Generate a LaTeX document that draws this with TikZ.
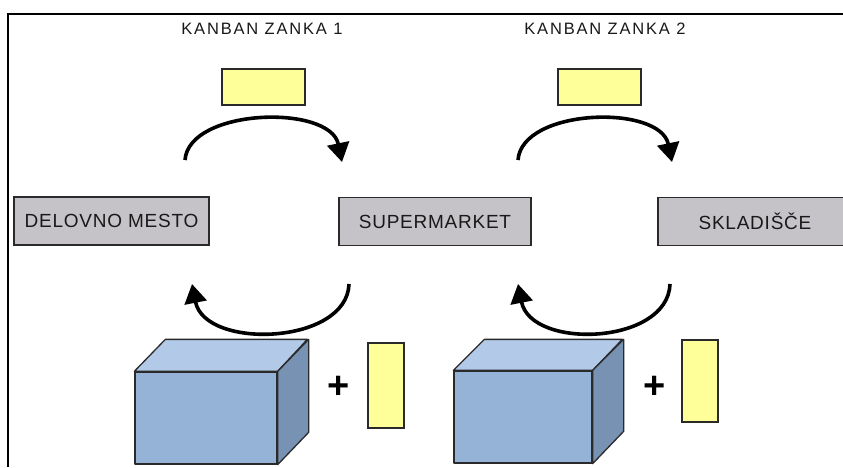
\documentclass[tikz,border=0pt]{standalone}
\usepackage{fontspec}
\setmainfont{Liberation Sans}
\newfontfamily\headfont[LetterSpace=11]{Liberation Sans}
\newfontfamily\stationfont[LetterSpace=4]{Liberation Sans}
\usetikzlibrary{arrows.meta}
\definecolor{stationgray}{HTML}{C5C3C8}
\definecolor{cardyellow}{HTML}{FFFF99}
\definecolor{boxfront}{HTML}{95B3D7}
\definecolor{boxtop}{HTML}{B2CAE8}
\definecolor{boxside}{HTML}{7892B4}
\definecolor{edgegray}{HTML}{2A2A2A}
\tikzset{
  station/.style={draw=edgegray, line width=1.3pt, fill=stationgray,
    minimum height=48pt, inner sep=0pt, text=black!90,
    font=\stationfont\fontsize{19}{19}\selectfont},
  heading/.style={inner sep=0pt, text=black!90, font=\headfont\fontsize{16.5}{17}\selectfont},
  card/.style={draw=edgegray, line width=1.3pt, fill=cardyellow, inner sep=0pt},
  loop/.style={line width=3.6pt, -{Triangle[length=19pt,width=22pt]}},
  boxface/.style={draw=edgegray, line width=1.3pt, line join=round},
  plussign/.style={inner sep=0pt, font=\fontsize{38}{38}\selectfont\bfseries},
}
\begin{document}
\begin{tikzpicture}[x=1pt,y=-1pt]
  \useasboundingbox (0,0) rectangle (843,467);
  % frame edges (top and left)
  \draw[line width=2pt] (8,467) -- (8,14) -- (843,14);

  % loop headings
  \node[heading] (h1) at (262,29) {KANBAN ZANKA 1};
  \node[heading] (h2) at (605,29) {KANBAN ZANKA 2};

  % kanban cards above the loops
  \node[card, minimum width=83pt, minimum height=36pt] (k1) at (263.5,87) {};
  \node[card, minimum width=83pt, minimum height=36pt] (k2) at (599.5,87) {};

  % stations
  \node[station, minimum width=195pt] (dm) at (111.5,221) {DELOVNO MESTO};
  \node[station, minimum width=192pt] (sm) at (435,221.5) {SUPERMARKET};
  \node[station, minimum width=194pt] (sk) at (755,221.5) {SKLADIŠČE};

  % card flow (upper arcs) and material flow (lower arcs)
  \coordinate (t1s) at (185,160);
  \coordinate (t1e) at (342,162);
  \coordinate (t2s) at (518,160);
  \coordinate (t2e) at (672,162);
  \coordinate (b1s) at (349,284);
  \coordinate (b1e) at (192,284);
  \coordinate (b2s) at (670,284);
  \coordinate (b2e) at (518,284);
  \draw[loop] (t1s) .. controls (189,108) and (330,104) .. (t1e);
  \draw[loop] (t2s) .. controls (522,108) and (660,104) .. (t2e);
  \draw[loop] (b1s) .. controls (347,345) and (205,350) .. (b1e);
  \draw[loop] (b2s) .. controls (668,345) and (531,350) .. (b2e);

  % container 1
  \node[boxface, fill=boxfront, minimum width=142pt, minimum height=92pt, inner sep=0pt] (c1) at (206,418) {};
  \draw[boxface, fill=boxtop] (c1.north west) -- ++(31,-32) -- ++(142,0) -- (c1.north east) -- cycle;
  \draw[boxface, fill=boxside] (c1.north east) -- ++(31,-32) -- ++(0,93) -- (c1.south east) -- cycle;
  \node[plussign] (p1) at (339,387) {+};
  \node[card, minimum width=36pt, minimum height=85pt] (v1) at (386,385.5) {};

  % container 2
  \node[boxface, fill=boxfront, minimum width=138pt, minimum height=92pt, inner sep=0pt] (c2) at (523,417) {};
  \draw[boxface, fill=boxtop] (c2.north west) -- ++(31,-31) -- ++(138,0) -- (c2.north east) -- cycle;
  \draw[boxface, fill=boxside] (c2.north east) -- ++(31,-31) -- ++(0,92) -- (c2.south east) -- cycle;
  \node[plussign] (p2) at (655,387) {+};
  \node[card, minimum width=36pt, minimum height=82pt] (v2) at (700,381) {};
\end{tikzpicture}
\end{document}
